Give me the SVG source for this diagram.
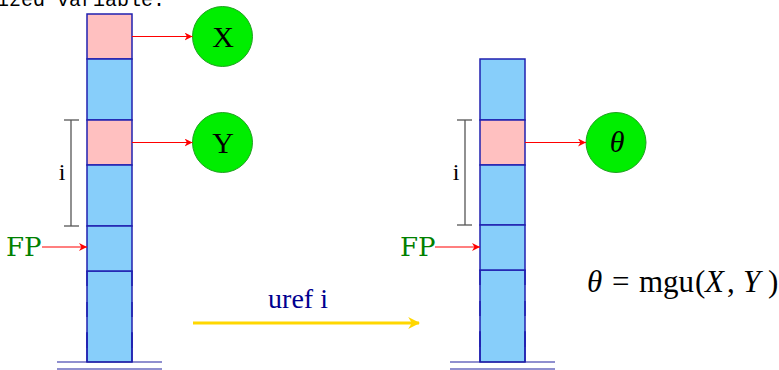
<svg xmlns="http://www.w3.org/2000/svg" width="779" height="370" viewBox="0 0 779 370">
<style>
.pink{fill:#FFC0C0;stroke:#2020B0;stroke-width:1.5}
.blue{fill:#87CEFA;stroke:#2020B0;stroke-width:1.5}
.side{stroke:#2020B0;stroke-width:1.5;fill:none}
.dash{stroke:#2020B0;stroke-width:1.5;fill:none;stroke-dasharray:15 16}
.base{stroke:#2020A0;stroke-width:1.2;fill:none}
.ref{stroke:#FF0000;stroke-width:1.2;fill:none;marker-end:url(#ra)}
.node{fill:#00EE00;stroke:#22A022;stroke-width:1}
.nt{font-family:"Liberation Serif",serif;font-size:30px;text-anchor:middle;fill:#000}
.br{stroke:#555;stroke-width:1.3;fill:none}
.it{font-family:"Liberation Serif",serif;font-size:24px;text-anchor:middle;fill:#000}
.fp{font-family:"DejaVu Serif",serif;font-size:26px;fill:#008000}
.f{font-family:"Liberation Serif",serif;font-size:31px;fill:#000}
</style>
<defs>
<marker id="ra" viewBox="0 0 10 10" refX="10" refY="5" markerWidth="8" markerHeight="8" markerUnits="userSpaceOnUse" orient="auto">
<path d="M0,0 L10,5 L0,10 L3,5 z" fill="#FF0000"/>
</marker>
<marker id="ya" viewBox="0 0 10 10" refX="9" refY="5" markerWidth="12" markerHeight="12" markerUnits="userSpaceOnUse" orient="auto">
<path d="M0,0 L10,5 L0,10 L3,5 z" fill="#FFD700"/>
</marker>
</defs>
<rect width="779" height="370" fill="#fff"/>
<text x="-3" y="6" font-family="Liberation Mono,monospace" font-size="20" fill="#000">ized variable.</text>

<g id="stack-left">
<rect class="blue" x="87" y="271" width="45" height="91" stroke="none"/>
<line class="dash" x1="87" y1="271" x2="87" y2="362"/>
<line class="dash" x1="132" y1="271" x2="132" y2="362"/>
<line class="side" x1="87" y1="332" x2="87" y2="362"/>
<line class="side" x1="132" y1="332" x2="132" y2="362"/>
<rect class="pink" x="87" y="14" width="45" height="45"/>
<rect class="blue" x="87" y="59" width="45" height="61"/>
<rect class="pink" x="87" y="120" width="45" height="45"/>
<rect class="blue" x="87" y="165" width="45" height="61"/>
<rect class="blue" x="87" y="226" width="45" height="45"/>
<line class="base" x1="57" y1="362" x2="162" y2="362"/>
<line class="base" x1="57" y1="369" x2="162" y2="369"/>
</g>

<g id="stack-right">
<rect class="blue" x="480" y="270" width="45" height="92" stroke="none"/>
<line class="dash" x1="480" y1="270" x2="480" y2="362"/>
<line class="dash" x1="525" y1="270" x2="525" y2="362"/>
<line class="side" x1="480" y1="331" x2="480" y2="362"/>
<line class="side" x1="525" y1="331" x2="525" y2="362"/>
<rect class="blue" x="480" y="59" width="45" height="61"/>
<rect class="pink" x="480" y="120" width="45" height="45"/>
<rect class="blue" x="480" y="165" width="45" height="60"/>
<rect class="blue" x="480" y="225" width="45" height="45"/>
<line class="base" x1="450" y1="362" x2="555" y2="362"/>
<line class="base" x1="450" y1="369" x2="555" y2="369"/>
</g>

<g id="node-X"><circle class="node" cx="222.5" cy="36.5" r="30"/><text class="nt" x="223" y="47">X</text></g>
<g id="node-Y"><circle class="node" cx="222.5" cy="142.5" r="30"/><text class="nt" x="223" y="153">Y</text></g>
<g id="node-theta"><circle class="node" cx="616" cy="142.5" r="30"/><text class="nt" x="617" y="152" font-style="italic" font-size="26">θ</text></g>

<g id="brace-left">
<line class="br" x1="71" y1="120" x2="71" y2="226"/>
<line class="br" x1="64" y1="120" x2="79" y2="120"/>
<line class="br" x1="64" y1="226" x2="79" y2="226"/>
<text class="it" x="62" y="180">i</text>
</g>
<g id="brace-right">
<line class="br" x1="465" y1="120" x2="465" y2="225"/>
<line class="br" x1="457" y1="120" x2="472" y2="120"/>
<line class="br" x1="457" y1="225" x2="472" y2="225"/>
<text class="it" x="456" y="180">i</text>
</g>

<g id="fp-left"><text class="fp" x="6" y="256">FP</text></g>
<g id="fp-right"><text class="fp" x="400" y="256">FP</text></g>

<g id="connectors">
<line class="ref" x1="132" y1="36.5" x2="192.5" y2="36.5"/>
<line class="ref" x1="132" y1="142.5" x2="192.5" y2="142.5"/>
<line class="ref" x1="525" y1="142.5" x2="586" y2="142.5"/>
<line class="ref" x1="42" y1="247" x2="87" y2="247"/>
<line class="ref" x1="435" y1="247" x2="480" y2="247"/>
<line x1="193" y1="323" x2="419" y2="323" stroke="#FFD700" stroke-width="3" marker-end="url(#ya)"/>
<text x="298" y="308" font-family="Liberation Serif,serif" font-size="28" fill="#000090" text-anchor="middle">uref i</text>
</g>

<text class="f" y="292"><tspan x="587" font-style="italic">θ</tspan><tspan x="612">=</tspan><tspan x="639">mgu</tspan><tspan x="695">(</tspan><tspan x="705" font-style="italic">X</tspan><tspan x="727">,</tspan><tspan x="743" font-style="italic">Y</tspan><tspan x="768">)</tspan></text>
</svg>
